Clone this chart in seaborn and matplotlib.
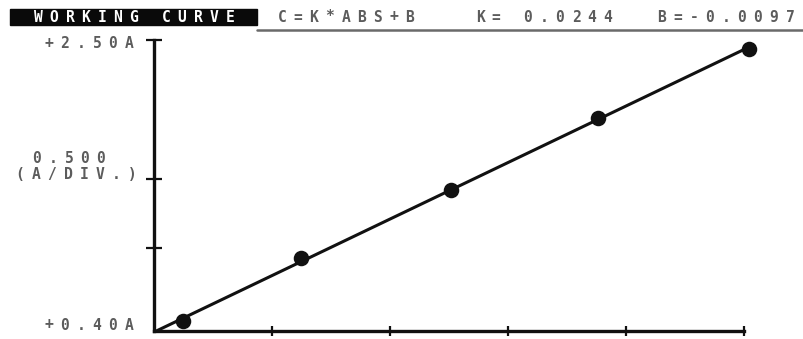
import numpy as np
import pandas as pd
import matplotlib
matplotlib.use("Agg")
import matplotlib.pyplot as plt
import matplotlib.transforms as mtransforms
from matplotlib.patches import Rectangle
from matplotlib.lines import Line2D
import seaborn as sns

# Calibration standards: concentration (divisions) vs. absorbance (A)
concentration = [0.25, 1.25, 2.52, 3.76, 5.04]
absorbance = [0.472, 0.927, 1.418, 1.937, 2.435]

title = "WORKING CURVE"
equation = "C=K*ABS+B"
k_label = "K= 0.0244"
b_label = "B=-0.0097"
y_top_label = "+2.50A"
y_bottom_label = "+0.40A"
y_scale_value = "0.500"
y_scale_unit = "(A/DIV.)"
y_min, y_max = 0.40, 2.50
y_ticks = [1.0, 1.5, 2.5]
x_ticks = [1, 2, 3, 4, 5]

sns.set_style("white")
plt.rcParams["font.family"] = ["DejaVu Sans Mono", "DejaVu Sans"]

DPI = 100
W, H = 804, 339
fig = plt.figure(figsize=(W / DPI, H / DPI), dpi=DPI)
ax = fig.add_axes([154 / W, 1 - 331 / H, 590 / W, 291 / H])

INK = "#111111"
TXT = "#5c5c5c"
PITCH = 16  # character cell width in pixels (terminal-style fixed pitch)
FS = 10.5


def cell_text(x, y, s, transform, dx_px=0, dy_px=0, ha="left", **kw):
    """Write a string on a fixed character grid, one cell per character."""
    start = dx_px if ha == "left" else dx_px - len(s) * PITCH
    for i, ch in enumerate(s):
        if ch == " ":
            continue
        tr = mtransforms.offset_copy(
            transform, fig=fig,
            x=(start + (i + 0.5) * PITCH) * 72 / DPI,
            y=dy_px * 72 / DPI, units="points")
        fig.text(x, y, ch, transform=tr, ha="center", va="center",
                 fontsize=FS, fontweight="bold", **kw)


# Fitted working line and standards
df = pd.DataFrame({"conc": concentration, "abs": absorbance})
m, b = np.polyfit(df["conc"], df["abs"], 1)
x_start = max(0.0, (y_min - b) / m)
fit = pd.DataFrame({"conc": [x_start, df["conc"].max()]})
fit["abs"] = m * fit["conc"] + b
sns.lineplot(data=fit, x="conc", y="abs", ax=ax, color=INK, linewidth=2.2,
             clip_on=False)
sns.scatterplot(data=df, x="conc", y="abs", ax=ax, color=INK, s=125,
                edgecolor=INK, linewidth=0, clip_on=False, zorder=5)

ax.set_xlim(0, 5)
ax.set_ylim(y_min, y_max)
ax.set_xlabel("")
ax.set_ylabel("")
ax.set_xticks(x_ticks)
ax.set_yticks(y_ticks)
ax.set_xticklabels([])
ax.set_yticklabels([])
ax.tick_params(axis="y", left=True, direction="inout", length=11, width=1.6,
               color=INK)
ax.tick_params(axis="x", bottom=True, direction="inout", length=7, width=1.6,
               color=INK)
for side in ("top", "right"):
    ax.spines[side].set_visible(False)
for side in ("left", "bottom"):
    ax.spines[side].set_linewidth(2.4)
    ax.spines[side].set_color(INK)
ax.patch.set_alpha(0)

# Y-axis annotations on the character grid
ytr = ax.get_yaxis_transform()
cell_text(0, y_max, y_top_label, ytr, dx_px=-17, dy_px=-3, ha="right", color=TXT)
cell_text(0, y_min, y_bottom_label, ytr, dx_px=-17, dy_px=6, ha="right", color=TXT)
cell_text(0, 1.5, y_scale_value, ytr, dx_px=-45, dy_px=20, ha="right", color=TXT)
cell_text(0, 1.5, y_scale_unit, ytr, dx_px=-14, dy_px=4, ha="right", color=TXT)

# Header bar
fig.patches.append(Rectangle((10 / W, 1 - 25 / H), 247 / W, 16 / H,
                             transform=fig.transFigure, color="#0a0a0a"))
fig.lines.append(Line2D([257 / W, 1.0], [1 - 29.5 / H] * 2,
                        transform=fig.transFigure, color="#6a6a6a", linewidth=1.8))
hdr_y = 1 - 17 / H
cell_text(0, hdr_y, title, fig.transFigure, dx_px=30, color="white")
cell_text(0, hdr_y, equation, fig.transFigure, dx_px=274, color=TXT)
cell_text(0, hdr_y, k_label, fig.transFigure, dx_px=472, color=TXT)
cell_text(0, hdr_y, b_label, fig.transFigure, dx_px=654, color=TXT)

fig.savefig("out.png", dpi=DPI, facecolor="white")
